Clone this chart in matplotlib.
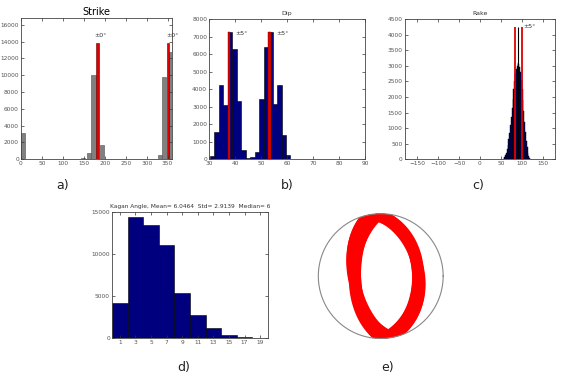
import numpy as np
import matplotlib
matplotlib.use('Agg')
import matplotlib.pyplot as plt
from matplotlib.patches import Circle

# a) strike histogram (gray) + red mean markers
strike_centers = [5, 148, 163, 173, 194, 332, 342, 357]
strike_counts = [3100, 100, 700, 10000, 1700, 500, 9800, 12800]
strike_red_x = [182.5, 351]
strike_red_h = [13800, 13800]

# b) dip histogram
dip_centers = [31.16, 32.88, 34.6, 36.32, 38.04, 39.76, 41.48, 43.2, 44.92,
               46.64, 48.36, 50.08, 51.8, 53.52, 55.24, 56.96, 58.68, 60.4]
dip_counts = [190, 1560, 4270, 3090, 7250, 6320, 3310, 510, 80,
              130, 420, 3430, 6420, 7250, 3180, 4230, 1370, 230]
dip_red_x = [37.6, 53.2]
dip_red_h = [7300, 7300]

# c) rake histogram
rake_centers = [57, 59, 61, 63, 65, 67, 69, 71, 73, 75, 77, 79, 81, 83, 85, 87,
                89, 91, 93, 95, 97, 99, 101, 103, 105, 107, 109, 111, 113, 115, 117, 119]
rake_counts = [20, 60, 120, 200, 320, 470, 650, 850, 1100, 1350, 1650, 1950, 2250, 2500,
               2750, 2900, 3000, 3100, 3050, 2950, 2800, 2550, 2250, 1900, 1550, 1200,
               880, 600, 380, 200, 90, 30]
rake_red_x = [84, 100]
rake_mean_x = 92
rake_line_h = 4250

# d) kagan angle histogram
kagan_centers = [1, 3, 5, 7, 9, 11, 13, 15, 17, 19]
kagan_counts = [4130, 14490, 13460, 11100, 5320, 2800, 1220, 390, 160, 40]

# e) nodal planes (strike, dip) for the stereonet
plane1_strike = [345, 348, 351, 354, 357, 360, 363, 350, 356, 346, 359, 352, 362, 349]
plane1_dip = [36, 38, 40, 42, 44, 37, 41, 39, 43, 35, 44, 38, 36, 42]
plane2_strike = [165, 168, 171, 174, 177, 180, 183, 170, 176, 166, 179, 172, 182, 169]
plane2_dip = [52, 54, 56, 58, 60, 53, 57, 55, 59, 51, 60, 54, 52, 58]

navy = '#00007f'
tick_col = '#555555'


def matlab_axes(ax):
    ax.tick_params(direction='in', top=True, right=True, labelsize=4.2,
                   labelcolor=tick_col, length=2, width=0.5, color='#333333', pad=1.5)
    for s in ax.spines.values():
        s.set_linewidth(0.6)
        s.set_color('#444444')


fig = plt.figure(figsize=(5.67, 3.79), dpi=100)

# a) Strike
ax = fig.add_axes([0.037, 0.580, 0.266, 0.372])
ax.bar(strike_centers, strike_counts, width=10, color='#808080', edgecolor='#505050', linewidth=0.4)
ax.bar(strike_red_x, strike_red_h, width=6.5, color='#e00000', edgecolor='#600000', linewidth=0.4)
ax.set_xlim(0, 360)
ax.set_ylim(0, 16800)
ax.set_xticks(range(0, 351, 50))
ax.set_yticks(range(0, 16001, 2000))
ax.set_title('Strike', fontsize=7, pad=2)
ax.text(190, 14500, '±0°', fontsize=4.5, color='#333333', ha='center')
ax.text(362, 14500, '±0°', fontsize=4.5, color='#333333', ha='center')
matlab_axes(ax)

# b) Dip
ax = fig.add_axes([0.369, 0.580, 0.275, 0.369])
ax.bar(dip_centers, dip_counts, width=1.72, color=navy, edgecolor='black', linewidth=0.4)
ax.bar(dip_red_x, dip_red_h, width=1.0, color='#e00000', edgecolor='#700000', linewidth=0.3)
ax.set_xlim(30, 90)
ax.set_ylim(0, 8000)
ax.set_xticks(range(30, 91, 10))
ax.set_yticks(range(0, 8001, 1000))
ax.set_title('Dip', fontsize=4.5, pad=3, color='#333333')
ax.text(42.5, 7100, '±5°', fontsize=4.5, color='#333333', ha='center')
ax.text(58, 7100, '±5°', fontsize=4.5, color='#333333', ha='center')
matlab_axes(ax)

# c) Rake
ax = fig.add_axes([0.714, 0.580, 0.265, 0.369])
ax.bar(rake_centers, rake_counts, width=2, color=navy, edgecolor='black', linewidth=0.3)
ax.vlines(rake_red_x, 0, rake_line_h, colors='#e00000', linewidth=1.3)
ax.vlines([rake_mean_x], 0, rake_line_h, colors='black', linewidth=0.8)
ax.set_xlim(-180, 180)
ax.set_ylim(0, 4500)
ax.set_xticks(range(-150, 151, 50))
ax.set_yticks(range(0, 4501, 500))
ax.set_title('Rake', fontsize=4.5, pad=3, color='#333333')
ax.text(103, 4230, '±5°', fontsize=4.5, color='#333333')
matlab_axes(ax)

# d) Kagan angle
ax = fig.add_axes([0.1975, 0.108, 0.275, 0.332])
ax.bar(kagan_centers, kagan_counts, width=2, color=navy, edgecolor='black', linewidth=0.4)
ax.set_xlim(0, 20)
ax.set_ylim(0, 15000)
ax.set_xticks(kagan_centers)
ax.set_yticks([0, 5000, 10000, 15000])
ax.set_title('Kagan Angle, Mean= 6.0464  Std= 2.9139  Median= 6', fontsize=4.2, pad=3, color='#333333')
matlab_axes(ax)

# e) stereonet, lower hemisphere equal area
ax = fig.add_axes([0.557, 0.100, 0.229, 0.343])
ax.set_aspect('equal')
ax.set_xlim(-1.04, 1.04)
ax.set_ylim(-1.04, 1.04)
ax.axis('off')


def great_circle(strike, dip):
    s = np.radians(strike)
    d = np.radians(dip)
    lam = np.linspace(0, np.pi, 120)
    sv = np.array([np.sin(s), np.cos(s), 0.0])
    dv = np.array([np.cos(d) * np.sin(s + np.pi / 2), np.cos(d) * np.cos(s + np.pi / 2), np.sin(d)])
    v = np.outer(np.cos(lam), sv) + np.outer(np.sin(lam), dv)
    plunge = np.arcsin(np.clip(v[:, 2], -1, 1))
    trend = np.arctan2(v[:, 0], v[:, 1])
    r = np.sqrt(2) * np.sin((np.pi / 2 - plunge) / 2)
    return r * np.sin(trend), r * np.cos(trend)


clip = Circle((0, 0), 1.0, transform=ax.transData)
for st, dp in zip(plane1_strike + plane2_strike, plane1_dip + plane2_dip):
    x, y = great_circle(st, dp)
    ln, = ax.plot(x, y, color='#ff0000', linewidth=4.5, solid_capstyle='butt')
    ln.set_clip_path(clip)

t = np.linspace(0, 2 * np.pi, 400)
ax.plot(np.cos(t), np.sin(t), color='#888888', linewidth=0.8)

# panel labels
for lbl, x, y in [('a)', 63, 186), ('b)', 287, 186), ('c)', 478, 186), ('d)', 184, 367), ('e)', 388, 367)]:
    fig.text(x / 567, 1 - y / 379, lbl, fontsize=9, ha='center', va='center', color='#222222')

fig.savefig('out.png', dpi=100)
